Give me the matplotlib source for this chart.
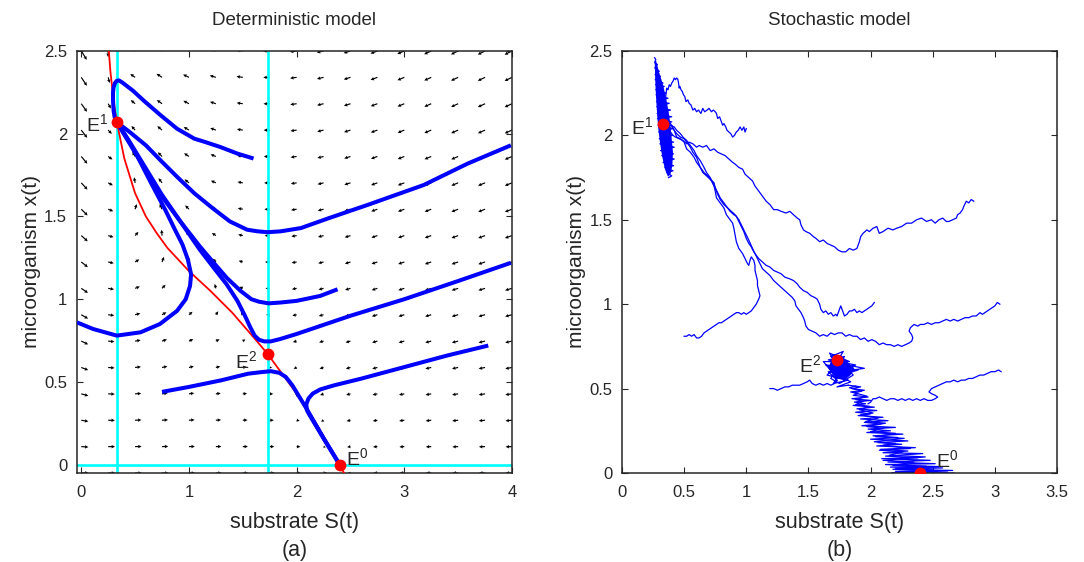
import numpy as np
import matplotlib
matplotlib.use("Agg")
import matplotlib.pyplot as plt

plt.rcParams["font.family"] = ["Liberation Sans", "DejaVu Sans"]
plt.rcParams["mathtext.fontset"] = "custom"
plt.rcParams["mathtext.rm"] = "Liberation Sans"
plt.rcParams["mathtext.it"] = "Liberation Sans:italic"

INK = "#262626"

# equilibria (S, x)
E0 = (2.40, 0.00)
E1 = (0.33, 2.07)
E2 = (1.73, 0.67)

# chemostat / Haldane parameters, only used for the direction field
S_IN, DIL, MU_MAX, K_S, K_I = 2.4, 1.0, 3.06, 0.571, 1.0

# red nullcline
red_s = [0.25, 0.27, 0.30, 0.33, 0.40, 0.50, 0.60, 0.70, 0.80, 1.00, 1.20, 1.40, 1.60, 1.73, 2.00, 2.20, 2.40, 2.44]
red_x = [2.55, 2.38, 2.20, 2.07, 1.85, 1.64, 1.50, 1.40, 1.31, 1.17, 1.05, 0.92, 0.77, 0.67, 0.43, 0.23, 0.00, -0.05]

# deterministic trajectories (S, x)
traj1 = [(1.60, 1.85), (1.45, 1.88), (1.29, 1.92), (1.15, 1.95), (1.05, 1.97), (0.89, 2.03), (0.74, 2.11),
         (0.58, 2.20), (0.48, 2.26), (0.43, 2.285), (0.38, 2.31), (0.35, 2.322), (0.33, 2.32), (0.312, 2.305),
         (0.30, 2.28), (0.295, 2.25), (0.295, 2.20), (0.30, 2.14), (0.31, 2.10), (0.33, 2.07)]
traj2 = [(0.33, 2.07), (0.45, 2.01), (0.60, 1.93), (0.75, 1.83), (0.905, 1.73), (1.05, 1.64), (1.22, 1.55),
         (1.38, 1.47), (1.54, 1.42), (1.64, 1.41), (1.73, 1.405), (1.85, 1.41), (2.04, 1.43), (2.30, 1.49),
         (2.66, 1.57), (3.18, 1.69), (3.59, 1.82), (3.99, 1.93)]
traj3 = [(0.33, 2.07), (0.45, 1.94), (0.60, 1.78), (0.75, 1.62), (0.92, 1.47), (1.10, 1.32), (1.23, 1.22),
         (1.35, 1.13), (1.48, 1.05), (1.58, 1.00), (1.65, 0.985), (1.74, 0.975), (1.85, 0.98), (2.00, 0.99),
         (2.22, 1.02), (2.38, 1.06)]
traj4 = [(0.33, 2.07), (0.45, 1.95), (0.60, 1.79), (0.75, 1.63), (0.92, 1.47), (1.10, 1.30), (1.23, 1.19),
         (1.35, 1.09), (1.45, 0.99), (1.52, 0.90), (1.57, 0.83), (1.61, 0.78), (1.65, 0.755), (1.70, 0.745),
         (1.76, 0.745), (1.85, 0.76), (2.00, 0.79), (2.50, 0.90), (3.00, 1.00), (3.50, 1.11), (3.99, 1.22)]
traj5 = [(-0.04, 0.86), (0.11, 0.82), (0.33, 0.78), (0.55, 0.80), (0.73, 0.85), (0.89, 0.93), (0.97, 1.00),
         (1.01, 1.08), (1.02, 1.15), (0.99, 1.24), (0.94, 1.33), (0.87, 1.42), (0.78, 1.54), (0.65, 1.70),
         (0.50, 1.89), (0.40, 2.00), (0.33, 2.07)]
traj6 = [(0.75, 0.44), (1.00, 0.47), (1.30, 0.51), (1.55, 0.55), (1.68, 0.56), (1.76, 0.565), (1.84, 0.555),
         (1.90, 0.53), (1.96, 0.48), (2.10, 0.33), (2.25, 0.16), (2.40, 0.00)]
traj7 = [(3.78, 0.72), (3.40, 0.66), (3.00, 0.59), (2.60, 0.52), (2.35, 0.48), (2.22, 0.455), (2.15, 0.43),
         (2.11, 0.40), (2.09, 0.365), (2.095, 0.33), (2.12, 0.30), (2.25, 0.16), (2.40, 0.00)]
det_trajs = [traj1, traj2, traj3, traj4, traj5, traj6, traj7]

# stochastic sample paths (S, x)
path1 = [(1.00, 2.04), (0.99, 2.02), (0.98, 2.05), (0.965, 2.03), (0.95, 2.05), (0.935, 2.03), (0.92, 2.02),
         (0.905, 2.00), (0.89, 1.99), (0.875, 2.01), (0.86, 2.02), (0.845, 2.03), (0.835, 2.05), (0.82, 2.07),
         (0.81, 2.06), (0.795, 2.09), (0.785, 2.11), (0.77, 2.10), (0.76, 2.13), (0.75, 2.14), (0.735, 2.15),
         (0.72, 2.14), (0.70, 2.16), (0.685, 2.15), (0.665, 2.14), (0.65, 2.16), (0.635, 2.13), (0.615, 2.15),
         (0.60, 2.14), (0.585, 2.16), (0.57, 2.15), (0.555, 2.18), (0.54, 2.19), (0.53, 2.21), (0.515, 2.20),
         (0.505, 2.23), (0.495, 2.24), (0.485, 2.26), (0.475, 2.27), (0.465, 2.29), (0.46, 2.28), (0.455, 2.31),
         (0.45, 2.33), (0.44, 2.34), (0.43, 2.33), (0.42, 2.34), (0.41, 2.32), (0.40, 2.31), (0.39, 2.29),
         (0.38, 2.30), (0.37, 2.27), (0.36, 2.28), (0.355, 2.25), (0.35, 2.22), (0.345, 2.18), (0.34, 2.13),
         (0.33, 2.08)]
path2 = [(2.83, 1.61), (2.81, 1.62), (2.79, 1.60), (2.77, 1.61), (2.75, 1.58), (2.74, 1.56), (2.72, 1.54),
         (2.70, 1.53), (2.69, 1.51), (2.66, 1.50), (2.63, 1.49), (2.61, 1.49), (2.58, 1.51), (2.55, 1.50),
         (2.52, 1.48), (2.49, 1.50), (2.45, 1.49), (2.41, 1.51), (2.37, 1.50), (2.33, 1.48), (2.29, 1.48),
         (2.25, 1.46), (2.21, 1.45), (2.18, 1.44), (2.14, 1.45), (2.10, 1.43), (2.07, 1.42), (2.06, 1.44),
         (2.05, 1.46), (2.02, 1.45), (1.99, 1.43), (1.97, 1.44), (1.94, 1.42), (1.92, 1.40), (1.91, 1.37),
         (1.90, 1.35), (1.89, 1.33), (1.86, 1.32), (1.83, 1.33), (1.80, 1.31), (1.77, 1.31), (1.74, 1.32),
         (1.71, 1.34), (1.68, 1.35), (1.65, 1.36), (1.62, 1.38), (1.59, 1.37), (1.56, 1.39), (1.54, 1.40),
         (1.51, 1.42), (1.48, 1.43), (1.46, 1.44), (1.44, 1.47), (1.43, 1.50), (1.41, 1.51), (1.38, 1.53),
         (1.35, 1.55), (1.32, 1.54), (1.28, 1.55), (1.25, 1.56), (1.22, 1.56), (1.19, 1.59), (1.16, 1.61),
         (1.13, 1.64), (1.10, 1.67), (1.07, 1.70), (1.05, 1.73), (1.02, 1.75), (0.99, 1.77), (0.97, 1.80),
         (0.94, 1.81), (0.91, 1.83), (0.89, 1.84), (0.86, 1.86), (0.83, 1.88), (0.80, 1.89), (0.77, 1.90),
         (0.74, 1.92), (0.71, 1.91), (0.68, 1.94), (0.65, 1.93), (0.62, 1.94), (0.60, 1.93), (0.57, 1.95),
         (0.54, 1.96), (0.52, 1.95), (0.49, 1.97), (0.46, 1.98), (0.43, 1.99), (0.41, 2.00), (0.39, 2.02),
         (0.37, 2.05)]
path3 = [(2.03, 1.01), (2.01, 0.99), (1.99, 0.98), (1.97, 0.97), (1.95, 0.96), (1.93, 0.95), (1.91, 0.96),
         (1.89, 0.95), (1.87, 0.97), (1.85, 0.96), (1.83, 0.96), (1.81, 0.94), (1.79, 0.93), (1.78, 0.95),
         (1.77, 0.97), (1.76, 0.99), (1.75, 0.97), (1.74, 0.95), (1.73, 0.93), (1.72, 0.94), (1.70, 0.93),
         (1.68, 0.95), (1.66, 0.94), (1.64, 0.96), (1.62, 0.95), (1.60, 0.97), (1.59, 1.00), (1.57, 1.03),
         (1.55, 1.04), (1.52, 1.05), (1.49, 1.07), (1.46, 1.08), (1.43, 1.10), (1.41, 1.12), (1.38, 1.14),
         (1.35, 1.15), (1.31, 1.16), (1.28, 1.18), (1.25, 1.19), (1.22, 1.20), (1.19, 1.22), (1.16, 1.23),
         (1.13, 1.25), (1.10, 1.27), (1.08, 1.29), (1.06, 1.31), (1.04, 1.34), (1.02, 1.36), (1.00, 1.39),
         (0.98, 1.43), (0.96, 1.46), (0.94, 1.49), (0.92, 1.52), (0.90, 1.53), (0.87, 1.55), (0.84, 1.58),
         (0.82, 1.60), (0.79, 1.63), (0.77, 1.66), (0.75, 1.69), (0.74, 1.72), (0.71, 1.74), (0.68, 1.76),
         (0.65, 1.78), (0.63, 1.81), (0.61, 1.85), (0.60, 1.87), (0.57, 1.90), (0.55, 1.93), (0.52, 1.96),
         (0.50, 1.98), (0.47, 1.99), (0.44, 2.01), (0.41, 2.04), (0.39, 2.07)]
path4 = [(3.04, 1.00), (3.02, 1.01), (3.00, 0.99), (2.98, 0.98), (2.96, 0.97), (2.94, 0.96), (2.92, 0.95),
         (2.90, 0.94), (2.88, 0.95), (2.85, 0.93), (2.82, 0.93), (2.79, 0.92), (2.76, 0.92), (2.73, 0.91),
         (2.70, 0.90), (2.67, 0.91), (2.64, 0.90), (2.61, 0.91), (2.58, 0.90), (2.55, 0.89), (2.52, 0.89),
         (2.49, 0.88), (2.46, 0.89), (2.43, 0.88), (2.40, 0.88), (2.38, 0.87), (2.35, 0.88), (2.32, 0.86),
         (2.31, 0.84), (2.33, 0.82), (2.34, 0.80), (2.33, 0.78), (2.31, 0.77), (2.28, 0.76), (2.25, 0.75),
         (2.22, 0.76), (2.19, 0.75), (2.16, 0.76), (2.13, 0.76), (2.10, 0.77), (2.07, 0.76), (2.04, 0.78),
         (2.01, 0.79), (1.98, 0.78), (1.95, 0.80), (1.92, 0.79), (1.89, 0.81), (1.86, 0.81), (1.83, 0.82),
         (1.80, 0.81), (1.77, 0.83), (1.74, 0.83), (1.71, 0.82), (1.68, 0.83), (1.65, 0.81), (1.62, 0.82),
         (1.59, 0.81), (1.56, 0.83), (1.53, 0.84), (1.50, 0.85), (1.48, 0.87), (1.47, 0.90), (1.46, 0.92),
         (1.44, 0.95), (1.42, 0.97), (1.40, 0.99), (1.39, 1.02), (1.37, 1.04), (1.34, 1.06), (1.31, 1.08),
         (1.28, 1.10), (1.25, 1.12), (1.22, 1.14), (1.19, 1.17), (1.16, 1.19), (1.13, 1.21), (1.11, 1.24),
         (1.09, 1.27), (1.07, 1.30), (1.05, 1.33), (1.02, 1.38), (1.00, 1.41), (0.98, 1.44), (0.96, 1.47),
         (0.94, 1.50), (0.91, 1.53), (0.88, 1.55), (0.85, 1.57), (0.82, 1.59), (0.79, 1.62), (0.77, 1.65),
         (0.75, 1.69), (0.73, 1.72), (0.71, 1.75), (0.68, 1.78), (0.66, 1.81), (0.63, 1.85), (0.60, 1.88),
         (0.58, 1.91), (0.55, 1.94), (0.52, 1.97), (0.49, 1.99), (0.47, 2.01), (0.44, 2.03), (0.42, 2.05),
         (0.39, 2.06)]
path5 = [(0.50, 0.81), (0.52, 0.81), (0.54, 0.82), (0.56, 0.81), (0.58, 0.82), (0.60, 0.80), (0.62, 0.80),
         (0.64, 0.81), (0.66, 0.83), (0.68, 0.84), (0.70, 0.85), (0.72, 0.86), (0.74, 0.87), (0.76, 0.88),
         (0.78, 0.89), (0.80, 0.89), (0.82, 0.90), (0.84, 0.91), (0.86, 0.92), (0.88, 0.93), (0.90, 0.94),
         (0.92, 0.95), (0.94, 0.95), (0.96, 0.94), (0.98, 0.95), (1.00, 0.94), (1.02, 0.95), (1.04, 0.96),
         (1.06, 0.98), (1.08, 1.00), (1.10, 1.03), (1.11, 1.05), (1.10, 1.08), (1.09, 1.11), (1.09, 1.14),
         (1.08, 1.17), (1.07, 1.20), (1.07, 1.23), (1.06, 1.26), (1.04, 1.28), (1.03, 1.26), (1.02, 1.23),
         (1.01, 1.24), (0.99, 1.27), (0.97, 1.30), (0.94, 1.33), (0.92, 1.37), (0.91, 1.41), (0.90, 1.45),
         (0.89, 1.48), (0.86, 1.51), (0.84, 1.53), (0.82, 1.57), (0.79, 1.60), (0.76, 1.63), (0.75, 1.67),
         (0.74, 1.70), (0.72, 1.73), (0.69, 1.76), (0.66, 1.78), (0.63, 1.81), (0.60, 1.84), (0.58, 1.87),
         (0.55, 1.90), (0.52, 1.92), (0.50, 1.96), (0.47, 1.98), (0.44, 1.99), (0.42, 2.03), (0.40, 2.06)]
path6 = [(3.05, 0.60), (3.03, 0.61), (3.00, 0.60), (2.97, 0.60), (2.94, 0.59), (2.91, 0.58), (2.88, 0.58),
         (2.85, 0.57), (2.82, 0.56), (2.79, 0.56), (2.76, 0.55), (2.73, 0.55), (2.70, 0.54), (2.67, 0.55),
         (2.64, 0.54), (2.61, 0.54), (2.58, 0.53), (2.55, 0.52), (2.52, 0.51), (2.49, 0.50), (2.47, 0.48),
         (2.49, 0.47), (2.52, 0.46), (2.54, 0.45), (2.52, 0.44), (2.49, 0.43), (2.46, 0.43), (2.43, 0.44),
         (2.40, 0.43), (2.37, 0.44), (2.34, 0.43), (2.31, 0.44), (2.28, 0.43), (2.25, 0.44), (2.22, 0.43),
         (2.19, 0.44), (2.16, 0.44), (2.13, 0.43), (2.10, 0.44), (2.07, 0.45), (2.04, 0.44), (2.02, 0.44),
         (2.00, 0.42), (1.98, 0.41)]
path7 = [(1.19, 0.50), (1.22, 0.50), (1.25, 0.49), (1.28, 0.50), (1.31, 0.51), (1.34, 0.51), (1.37, 0.52),
         (1.40, 0.52), (1.43, 0.52), (1.46, 0.53), (1.49, 0.54), (1.51, 0.55), (1.53, 0.53), (1.56, 0.52),
         (1.59, 0.53), (1.62, 0.52), (1.65, 0.53), (1.68, 0.52), (1.71, 0.53), (1.73, 0.55)]
# dense tangles around the attractors and E2
tangle_e1 = [(0.262, 2.46), (0.272, 2.45), (0.263, 2.43), (0.285, 2.42), (0.264, 2.40), (0.30, 2.38),
             (0.266, 2.36), (0.31, 2.35), (0.267, 2.33), (0.33, 2.31), (0.27, 2.30), (0.34, 2.29),
             (0.272, 2.27), (0.355, 2.25), (0.274, 2.24), (0.37, 2.22), (0.277, 2.20), (0.38, 2.19),
             (0.28, 2.17), (0.39, 2.15), (0.283, 2.13), (0.40, 2.11), (0.286, 2.10), (0.40, 2.08),
             (0.29, 2.06), (0.41, 2.04), (0.295, 2.02), (0.405, 2.00), (0.30, 1.98), (0.415, 1.96),
             (0.305, 1.95), (0.42, 1.93), (0.31, 1.91), (0.415, 1.89), (0.32, 1.88), (0.42, 1.86),
             (0.33, 1.84), (0.415, 1.82), (0.345, 1.81), (0.41, 1.79), (0.36, 1.78), (0.40, 1.76),
             (0.375, 1.75)]
cloud_e1 = [(0.263, 2.44), (0.266, 2.36), (0.27, 2.28), (0.276, 2.20), (0.283, 2.12), (0.292, 2.04),
            (0.305, 1.96), (0.322, 1.88), (0.345, 1.80), (0.37, 1.755), (0.39, 1.77), (0.405, 1.82),
            (0.41, 1.90), (0.40, 1.98), (0.39, 2.06), (0.375, 2.14), (0.355, 2.22), (0.33, 2.30),
            (0.30, 2.37), (0.275, 2.44)]
tangle_e2 = [(1.73, 0.55), (1.66, 0.60), (1.80, 0.58), (1.64, 0.64), (1.85, 0.62), (1.68, 0.69),
             (1.78, 0.72), (1.70, 0.62), (1.90, 0.61), (1.72, 0.57), (1.62, 0.66), (1.83, 0.66),
             (1.67, 0.71), (1.76, 0.60), (1.95, 0.62), (1.74, 0.65), (1.65, 0.58), (1.82, 0.55),
             (1.70, 0.53), (1.80, 0.64), (1.72, 0.70), (1.86, 0.58), (1.75, 0.53), (1.68, 0.56),
             (1.79, 0.69), (1.66, 0.67), (1.88, 0.64), (1.71, 0.59), (1.84, 0.54), (1.73, 0.51),
             (1.82, 0.52)]
cloud_e2 = [(1.66, 0.62), (1.69, 0.68), (1.76, 0.70), (1.81, 0.66), (1.87, 0.62), (1.84, 0.58),
            (1.79, 0.55), (1.72, 0.56)]
band_e0 = [(1.82, 0.52), (1.92, 0.51), (1.85, 0.50), (1.95, 0.49), (1.84, 0.48), (1.90, 0.47),
           (1.86, 0.46), (1.98, 0.45), (1.85, 0.44), (2.00, 0.43), (1.87, 0.42), (1.96, 0.41),
           (1.86, 0.40), (2.03, 0.39), (1.89, 0.38), (2.05, 0.37), (1.88, 0.36), (2.00, 0.35),
           (1.90, 0.34), (2.10, 0.33), (1.92, 0.32), (2.14, 0.31), (1.95, 0.30), (2.08, 0.29),
           (1.93, 0.28), (2.20, 0.27), (1.98, 0.26), (2.16, 0.25), (1.97, 0.24), (2.26, 0.23),
           (2.02, 0.22), (2.22, 0.21), (2.00, 0.20), (2.30, 0.19), (2.06, 0.18), (2.25, 0.17),
           (2.05, 0.16), (2.36, 0.15), (2.08, 0.14), (2.30, 0.13), (2.10, 0.12), (2.42, 0.115),
           (2.12, 0.10), (2.38, 0.09), (2.09, 0.085), (2.48, 0.075), (2.14, 0.065), (2.52, 0.055),
           (2.12, 0.05), (2.45, 0.04), (2.16, 0.035), (2.58, 0.03), (2.18, 0.022), (2.66, 0.015),
           (2.20, 0.01), (2.62, 0.005), (2.17, 0.0), (2.67, 0.0)]
band_e0b = [(1.88, 0.515), (1.83, 0.505), (1.93, 0.485), (1.87, 0.475), (1.97, 0.455), (1.88, 0.435),
            (1.94, 0.425), (1.88, 0.405), (1.99, 0.395), (1.91, 0.375), (2.02, 0.355), (1.92, 0.345),
            (2.06, 0.325), (1.96, 0.305), (2.12, 0.295), (1.97, 0.275), (2.10, 0.265), (2.00, 0.245),
            (2.20, 0.235), (2.04, 0.215), (2.27, 0.205), (2.03, 0.185), (2.20, 0.175), (2.10, 0.165),
            (2.32, 0.145), (2.07, 0.135), (2.26, 0.125), (2.15, 0.105), (2.44, 0.095), (2.10, 0.075),
            (2.35, 0.065), (2.18, 0.045), (2.55, 0.038), (2.20, 0.028), (2.50, 0.018), (2.25, 0.008),
            (2.60, 0.002)]
sto_paths = [path1, path2, path3, path4, path5, path6, path7, tangle_e1, tangle_e2, band_e0, band_e0b]
sto_clouds = [cloud_e1, cloud_e2]

fig = plt.figure(figsize=(10.84, 5.62), dpi=100)
ax1 = fig.add_axes([0.0710, 0.1584, 0.4013, 0.7509])
ax2 = fig.add_axes([0.5738, 0.1584, 0.4013, 0.7509])


def style_axes(ax, xt, yt):
    ax.set_xticks(xt)
    ax.set_xticklabels([f"{v:g}" for v in xt])
    ax.set_yticks(yt)
    ax.set_yticklabels([f"{v:g}" for v in yt])
    ax.tick_params(direction="in", length=4.5, width=0.8, top=True, right=True,
                   labelsize=12, colors=INK)
    ax.tick_params(axis="x", pad=9)
    ax.tick_params(axis="y", pad=7)
    for sp in ax.spines.values():
        sp.set_linewidth(1.1)
        sp.set_color(INK)
    ax.set_xlabel("substrate S(t)", fontsize=15.5, color=INK)
    ax.set_ylabel("microorganism x(t)", fontsize=15, color=INK)
    ax.xaxis.set_label_coords(0.5, -0.092)
    ax.yaxis.set_label_coords(-0.082, 0.5)


# ---- (a) deterministic ----
ss, xx = np.meshgrid(np.linspace(0, 4, 17), np.linspace(-0.05, 2.5, 17))
mu = MU_MAX * ss / (K_S + ss + ss ** 2 / K_I)
ds = DIL * (S_IN - ss) - mu * xx
dx = (mu - DIL) * xx
mag = np.hypot(ds, dx)
mag[mag == 0] = 1e-9
alen = 0.074 * (mag / mag.max()) ** 0.3
ax1.quiver(ss, xx, ds / mag * alen, dx / mag * alen, angles="xy", scale_units="xy", scale=1,
           color="k", width=0.0027, headwidth=3.0, headlength=3.0, headaxislength=2.7,
           minlength=0, zorder=1)

ax1.axvline(E1[0], color="#00FFFF", lw=1.9, zorder=2)
ax1.axvline(E2[0], color="#00FFFF", lw=1.9, zorder=2)
ax1.axhline(0, color="#00FFFF", lw=1.9, zorder=2)
ax1.plot(red_s, red_x, color="#FF0000", lw=1.3, zorder=3)
for tr in det_trajs:
    a = np.array(tr)
    ax1.plot(a[:, 0], a[:, 1], color="#0000FF", lw=2.9, solid_capstyle="butt",
             solid_joinstyle="round", zorder=4)
for e in (E0, E1, E2):
    ax1.plot(*e, "o", color="#FF0000", ms=7.5, zorder=5)

ax1.text(0.245, 2.015, "E$^{1}$", ha="right", va="baseline", fontsize=14, color=INK)
ax1.text(1.635, 0.584, "E$^{2}$", ha="right", va="baseline", fontsize=14, color=INK)
ax1.text(2.455, 0.0, "E$^{0}$", ha="left", va="baseline", fontsize=14, color=INK, zorder=6)

ax1.set_xlim(-0.04, 4.0)
ax1.set_ylim(-0.05, 2.5)
style_axes(ax1, [0, 1, 2, 3, 4], [0, 0.5, 1, 1.5, 2, 2.5])
ax1.set_title("Deterministic model", fontsize=13.5, color=INK, pad=19)
ax1.text(0.5, -0.158, "(a)", transform=ax1.transAxes, ha="center", va="top", fontsize=15.5, color=INK)

# ---- (b) stochastic ----
for c in sto_clouds:
    a = np.array(c)
    ax2.fill(a[:, 0], a[:, 1], color="#0000FF", lw=0, zorder=2)
for p in sto_paths:
    a = np.array(p)
    ax2.plot(a[:, 0], a[:, 1], color="#0000FF", lw=0.9, zorder=2)
for e in (E0, E1, E2):
    ax2.plot(*e, "o", color="#FF0000", ms=7.5, zorder=5)

ax2.text(0.25, 2.006, "E$^{1}$", ha="right", va="baseline", fontsize=14, color=INK)
ax2.text(1.604, 0.597, "E$^{2}$", ha="right", va="baseline", fontsize=14, color=INK)
ax2.text(2.528, 0.032, "E$^{0}$", ha="left", va="baseline", fontsize=14, color=INK)

ax2.set_xlim(0, 3.5)
ax2.set_ylim(0, 2.5)
style_axes(ax2, [0, 0.5, 1, 1.5, 2, 2.5, 3, 3.5], [0, 0.5, 1, 1.5, 2, 2.5])
ax2.set_title("Stochastic model", fontsize=13.5, color=INK, pad=19)
ax2.text(0.5, -0.158, "(b)", transform=ax2.transAxes, ha="center", va="top", fontsize=15.5, color=INK)

fig.savefig("out.png", dpi=100)
